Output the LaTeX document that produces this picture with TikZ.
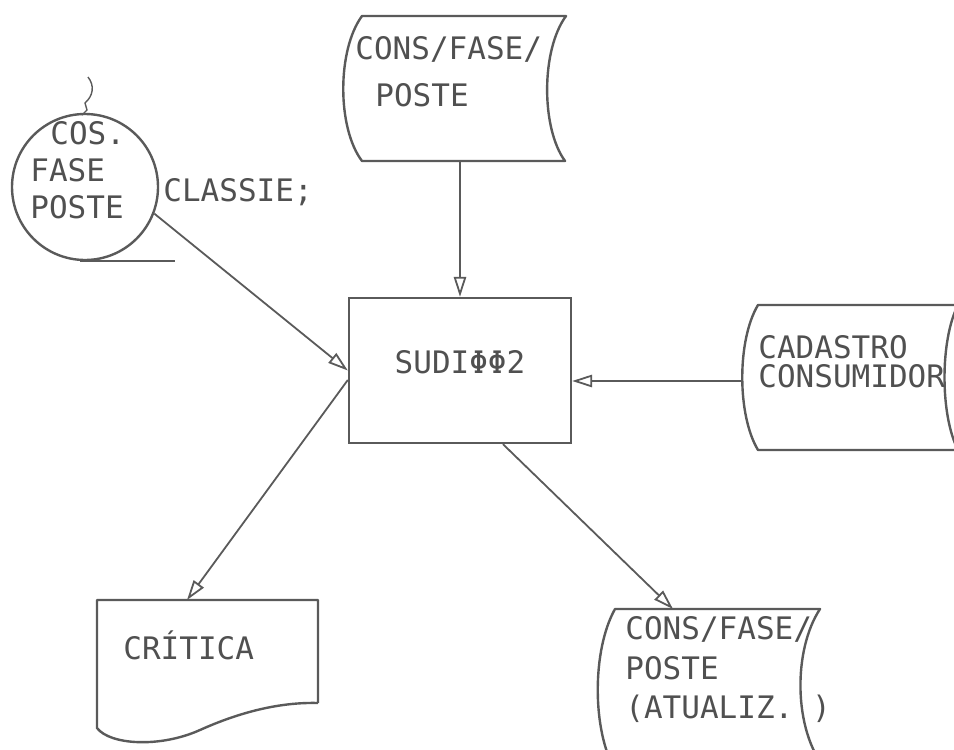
\documentclass[tikz,border=0pt]{standalone}
\usepackage{fontspec}
\setmonofont{DejaVu Sans Mono}
\usetikzlibrary{arrows.meta}
\definecolor{ink}{HTML}{5A5A5A}
\definecolor{typeink}{HTML}{505050}

\begin{document}
\begin{tikzpicture}[x=0.5pt,y=-0.5pt,
  outline/.style={draw=ink, line width=1.2pt, line join=round},
  flow/.style={draw=ink, line width=0.9pt,
    -{Triangle[length=10pt, width=6.2pt, fill=white, line width=0.9pt]}},
  tw/.style={text=typeink, inner sep=0pt,
    font=\ttfamily\fontsize{15.5}{#1}\selectfont, align=left, anchor=west},
  tw/.default=18pt]

\useasboundingbox (0,0) rectangle (954,750);
\clip (0,0) rectangle (954,750);

% input file CONS/FASE/POSTE (stored data symbol)
\draw[outline] (362,16) -- (566,16) .. controls (541,50) and (541,128) .. (565,161)
  -- (362,161) .. controls (337,128) and (337,50) .. (362,16) -- cycle;
\node[tw=23.5pt] (topfile) at (355,72) {CONS/FASE/\\\hspace*{10pt}POSTE};
\coordinate (topfile-s) at (460,161);

% program box
\node[draw=ink, line width=1.2pt, minimum width=111pt, minimum height=72.5pt,
  inner sep=0pt] (box) at (460,370.5) {};
\node[tw, anchor=center] (boxtext) at (460,362) {SUDIΦΦ2};

% master file CADASTRO CONSUMIDOR
\draw[outline] (962,305) -- (758,305) .. controls (737,340) and (737,415) .. (758,450)
  -- (962,450);
\draw[outline] (958,305) .. controls (940,340) and (940,415) .. (958,450);
\node[tw=14.5pt] (cadastro) at (758,362) {CADASTRO\\CONSUMIDOR};
\coordinate (cadastro-w) at (742,381);

% updated file
\draw[outline] (615,609) -- (820,609) .. controls (793,650) and (793,730) .. (826,770)
  -- (615,770) .. controls (592,730) and (592,650) .. (615,609) -- cycle;
\node[tw=19.75pt] (outfile) at (625,670) {CONS/FASE/\\POSTE\\(ATUALIZ. )};
\coordinate (outfile-n) at (673,609);

% printed report
\draw[outline] (318,703) -- (318,600) -- (97,600) -- (97,728)
  .. controls (110,745) and (160,748) .. (200,730)
  .. controls (240,712) and (280,702) .. (318,703);
\node[tw] (critica) at (123,645) {CRÍTICA};
\coordinate (critica-n) at (187,600);

% input terminal (circle)
\node[circle, draw=ink, line width=1.2pt, minimum size=73pt, inner sep=0pt]
  (cos) at (85,187) {};
\node[tw=18.5pt] (costext) at (30,170) {\hspace*{10pt}COS.\\FASE\\POSTE};
\draw[outline] (80,261) -- (175,261);
\draw[ink, line width=0.7pt] (88,77) .. controls (95,86) and (93,96) .. (85,103)
  -- (87,110) -- (82,115);
\node[tw] (classie) at (163,192) {CLASSIE;};

% data flow
\draw[flow] (topfile-s) -- (box.north);
\draw[flow] (cadastro-w) -- (box.east |- cadastro-w);
\draw[flow] (cos.-21) -- (box.west);
\draw[flow] ([yshift=-4.75pt]box.west) -- (critica-n);
\draw[flow] ([xshift=21.5pt]box.south) -- (outfile-n);
\end{tikzpicture}
\end{document}
